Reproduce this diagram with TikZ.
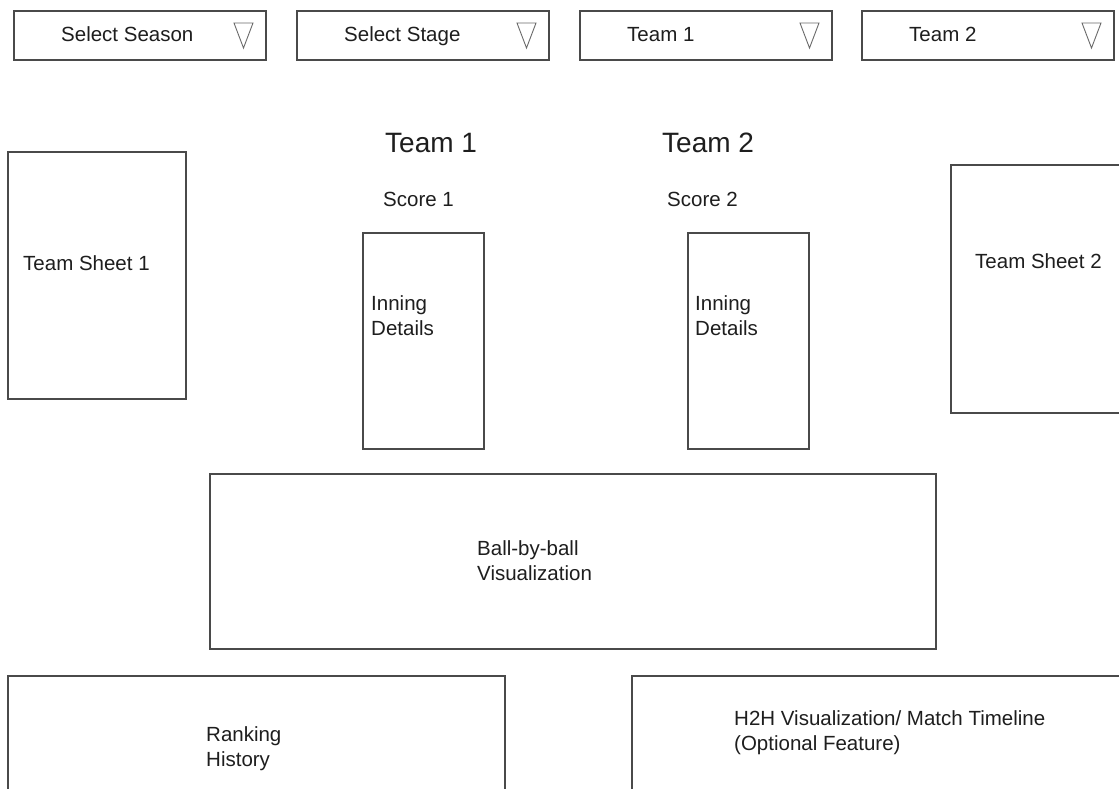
\documentclass[tikz,border=0pt]{standalone}
\usepackage{fontspec}
\setmainfont{Liberation Sans}
\definecolor{edge}{HTML}{4A4A4A}
\definecolor{ink}{HTML}{1E1E1E}
\definecolor{caret}{HTML}{6A6A6A}
\begin{document}
\begin{tikzpicture}[x=1pt,y=-1pt,
  panel/.style={draw=edge,line width=1.1pt,fill=none,inner sep=0pt,outer sep=0pt,anchor=north west},
  label/.style={text=ink,inner sep=0pt,anchor=base west,font=\fontsize{20.5}{25}\selectfont,align=left},
  heading/.style={text=ink,inner sep=0pt,anchor=base west,font=\fontsize{28}{32}\selectfont},
  caretline/.style={draw=caret,line width=0.9pt,line join=miter}
]
\clip (0,0) rectangle (1119,789);
\fill[white] (0,0) rectangle (1119,789);

% dropdown selectors along the top
\foreach \name/\xl/\txt in {season/14/Select Season, stage/297/Select Stage, teamA/580/Team 1, teamB/862/Team 2}{
  \node[panel,minimum width=252pt,minimum height=49pt] (\name) at (\xl,11) {};
  \node[label] (\name-t) at (\xl+47,42) {\txt};
  \coordinate (\name-c) at (\xl+220,23);
  \draw[caretline] (\name-c) -- ++(19,0) -- ++(-9.5,25) -- cycle;
}

% team sheets
\node[panel,minimum width=178pt,minimum height=247pt] (sheet1) at (8,152) {};
\node[label] (sheet1-t) at (23,270) {Team Sheet 1};
\node[panel,minimum width=200pt,minimum height=248pt] (sheet2) at (951,165) {};
\node[label] (sheet2-t) at (975,268) {Team Sheet 2};

% team headings and scores
\node[heading] (head1) at (385,153) {Team 1};
\node[heading] (head2) at (662,153) {Team 2};
\node[label] (score1) at (383,206) {Score 1};
\node[label] (score2) at (667,206) {Score 2};

% innings panels (text nodes placed by the baseline of their last line)
\node[panel,minimum width=121pt,minimum height=216pt] (inn1) at (363,233) {};
\node[label] (inn1-t) at (371,335) {Inning\\Details};
\node[panel,minimum width=121pt,minimum height=216pt] (inn2) at (688,233) {};
\node[label] (inn2-t) at (695,335) {Inning\\Details};

% ball-by-ball panel
\node[panel,minimum width=726pt,minimum height=175pt] (balls) at (210,474) {};
\node[label] (balls-t) at (477,580) {Ball-by-ball\\Visualization};

% bottom panels
\node[panel,minimum width=497pt,minimum height=140pt] (rank) at (8,676) {};
\node[label] (rank-t) at (206,766) {Ranking\\History};
\node[panel,minimum width=520pt,minimum height=140pt] (h2h) at (632,676) {};
\node[label] (h2h-t) at (734,750) {H2H Visualization/ Match Timeline\\(Optional Feature)};
\end{tikzpicture}
\end{document}
